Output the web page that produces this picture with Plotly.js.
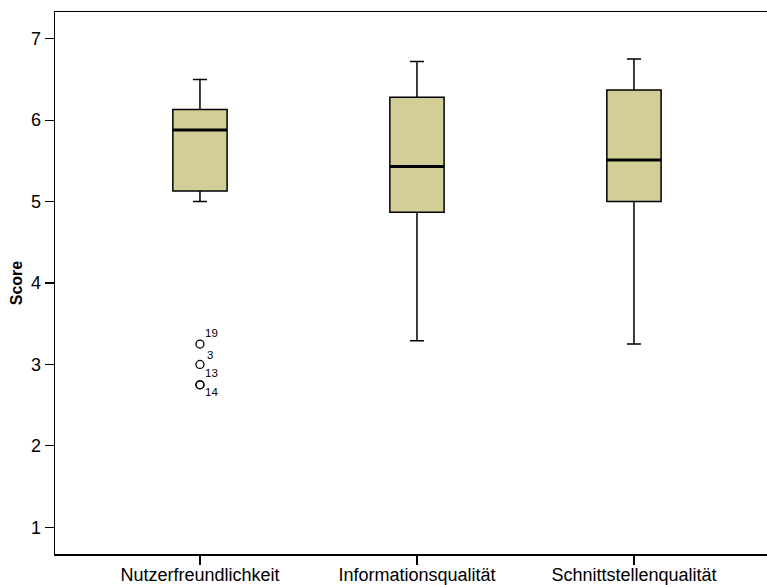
<!DOCTYPE html>
<html>
<head>
<meta charset="utf-8">
<script src="https://cdn.plot.ly/plotly-3.0.1.min.js"></script>
<style>html,body{margin:0;padding:0;background:#fff}#chart{width:767px;height:585px}</style>
</head>
<body>
<div id="chart"></div>
<script>
const categories = ['Nutzerfreundlichkeit', 'Informationsqualität', 'Schnittstellenqualität'];
const lowerWhisker = [5.00, 3.29, 3.25];
const q1Values = [5.13, 4.87, 5.00];
const medianValues = [5.88, 5.43, 5.51];
const q3Values = [6.13, 6.28, 6.37];
const upperWhisker = [6.50, 6.72, 6.75];
const outlierCategory = ['Nutzerfreundlichkeit', 'Nutzerfreundlichkeit', 'Nutzerfreundlichkeit', 'Nutzerfreundlichkeit'];
const outlierValues = [3.25, 3.00, 2.75, 2.75];
const outlierLabels = ['19', '3', '13', '14'];
const outlierLabelValues = [3.25, 3.25, 3.00, 2.75];
const yTicks = [1, 2, 3, 4, 5, 6, 7];

const fill = '#D3CE98';
const boxWidth = 0.25;

const traces = [{
  type: 'box',
  x: categories,
  q1: q1Values,
  median: medianValues,
  q3: q3Values,
  lowerfence: lowerWhisker,
  upperfence: upperWhisker,
  width: boxWidth,
  fillcolor: fill,
  line: {color: '#000', width: 1.5},
  whiskerwidth: 0.26,
  boxpoints: false,
  hoverinfo: 'skip',
  showlegend: false
}, {
  type: 'scatter',
  mode: 'markers',
  x: outlierCategory,
  y: outlierValues,
  marker: {symbol: 'circle-open', size: 8, color: '#000', line: {width: 1.3, color: '#000'}},
  hoverinfo: 'skip',
  showlegend: false
}];

const labelShifts = [[12, 11], [10, -11], [12, -9], [12, -7]];
const annotations = outlierLabels.map((t, i) => ({
  x: 0, y: outlierLabelValues[i], xref: 'x', yref: 'y', text: t, showarrow: false,
  xshift: labelShifts[i][0], yshift: labelShifts[i][1],
  font: {family: 'Liberation Sans, Arial, sans-serif', size: 11.5, color: '#000'}
}));

const shapes = categories.map((c, i) => ({
  type: 'line', xref: 'x', yref: 'y',
  x0: i - boxWidth / 2, x1: i + boxWidth / 2, y0: medianValues[i], y1: medianValues[i],
  line: {color: '#000', width: 3}
}));

const layout = {
  width: 767, height: 585,
  margin: {l: 55, r: 0, t: 12, b: 31, pad: 0},
  paper_bgcolor: '#fff', plot_bgcolor: '#fff',
  font: {family: 'Liberation Sans, Arial, sans-serif', size: 18, color: '#000'},
  xaxis: {
    type: 'category', categoryarray: categories, range: [-0.668, 2.613],
    showline: true, linecolor: '#000', linewidth: 1.5, mirror: true,
    ticks: 'outside', ticklen: 9, tickwidth: 1.2, tickcolor: '#000',
    ticklabelstandoff: -5,
    showgrid: false, zeroline: false, fixedrange: true,
    tickfont: {size: 18}
  },
  yaxis: {
    range: [0.672, 7.328], tickvals: yTicks, ticktext: yTicks.map(String),
    showline: true, linecolor: '#000', linewidth: 1.5,
    ticks: 'outside', ticklen: 9, tickwidth: 1.2, tickcolor: '#000',
    showgrid: false, zeroline: false, fixedrange: true,
    tickfont: {size: 18},
    title: {text: '<b>Score</b>', font: {size: 16}, standoff: 4}
  },
  annotations: annotations,
  shapes: shapes
};

Plotly.newPlot('chart', traces, layout, {displayModeBar: false, staticPlot: true});
</script>
</body>
</html>
